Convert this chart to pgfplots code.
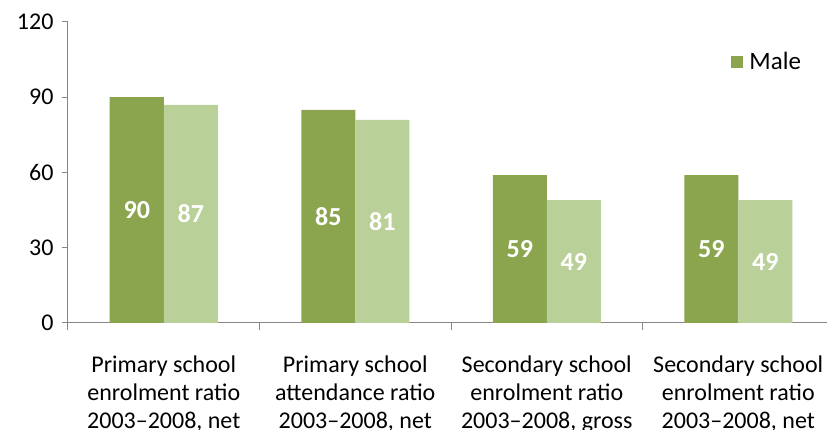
\documentclass[border=0pt]{standalone}
\usepackage{pgfplots}
\pgfplotsset{compat=1.18}
\usepackage{fontspec}
\setmainfont{Carlito}
\definecolor{male}{HTML}{8AA54E}
\definecolor{female}{HTML}{B9D098}
\definecolor{axisgray}{HTML}{868686}
\begin{document}
\begin{tikzpicture}
\useasboundingbox (-68pt,-107pt) rectangle (759pt,323pt);
\clip (-68pt,-107pt) rectangle (759pt,323pt);
\begin{axis}[
    scale only axis,
    width=766pt, height=301pt,
    ybar=0pt, bar width=54pt,
    xmin=-0.5, xmax=3.5,
    ymin=0, ymax=120,
    ytick={0,30,60,90,120},
    xtick={0,1,2,3},
    xticklabels={{Primary school\\enrolment ratio\\2003--2008, net},
                 {Primary school\\attendance ratio\\2003--2008, net},
                 {Secondary school\\enrolment ratio\\2003--2008, gross},
                 {Secondary school\\enrolment ratio\\2003--2008, net}},
    minor xtick={-0.5,0.5,1.5,2.5,3.5},
    major x tick style={draw=none},
    minor tick length=7pt,
    major tick length=6pt,
    tick align=outside,
    axis x line*=bottom, axis y line*=left,
    axis line style={axisgray, line width=1pt},
    tick style={axisgray, line width=1pt},
    every tick label/.append style={font=\fontsize{24}{28}\selectfont, text=black},
    /pgf/number format/assume math mode=true,
    xticklabel style={align=center, yshift=-23pt},
    yticklabel style={xshift=-5pt},
    legend style={at={(0.862,0.867)}, anchor=west, draw=none, fill=none,
        font=\fontsize{25}{29}\selectfont,
        /tikz/every even column/.append style={column sep=0pt}},
    legend image code/.code={\fill[#1] (0pt,-6pt) rectangle (12pt,6pt);},
    legend cell align=left,
    visualization depends on={y \as \rawy},
    nodes near coords,
    every node near coord/.append style={anchor=center, text=white,
        font=\bfseries\fontsize{26}{30}\selectfont,
        shift={(axis direction cs:0,-\rawy/2)}},
]
\addplot[fill=male, draw=none, bar shift=-27pt] coordinates {(0,90) (1,85) (2,59) (3,59)};
\addlegendentry{\hspace{4pt}Male}
\addplot[fill=female, draw=none, bar shift=27pt, forget plot] coordinates {(0,87) (1,81) (2,49) (3,49)};
\end{axis}
\end{tikzpicture}
\end{document}
